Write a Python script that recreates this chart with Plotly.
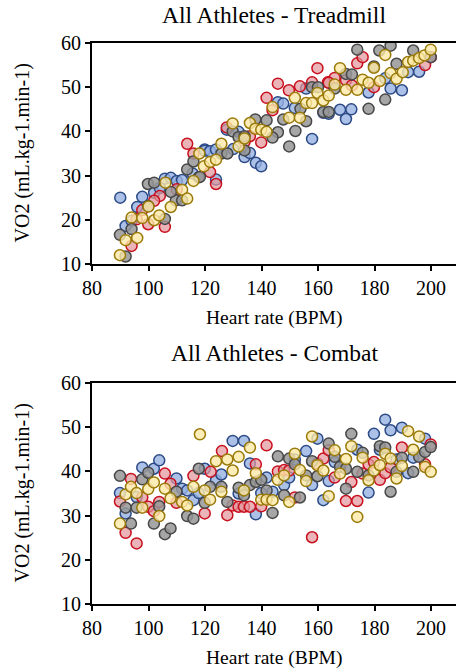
import plotly.graph_objects as go

# Treadmill (heart rate BPM, VO2 mL/kg/min)
tm_blue_hr = [90, 97.8, 96, 102, 104, 105.8, 107.9, 110, 111.9, 115.6, 119.9, 91.9, 94, 119.9, 121.8, 123.9,
              123.9, 127.7, 131.9, 130, 134, 135.9, 138, 139.9, 145.8, 147.7, 151.8, 155.8, 157.9, 161.9,
              163.8, 167.8, 169.9, 171.8, 177.9, 183.8, 185.7, 189.7, 191.9, 195.8]
tm_blue_vo2 = [25, 25.2, 22.9, 26.1, 27.2, 29.3, 29.5, 28.8, 29, 30.5, 35.9, 18.6, 19.8, 35.6, 35.5, 35.9,
               29.1, 40.4, 39.9, 36, 34.2, 35.1, 32.9, 32.1, 46.6, 46.3, 45.3, 49.7, 38.3, 44.2,
               44, 44.9, 42.8, 45, 48.8, 52, 49.7, 49.3, 53.4, 53.5]

tm_red_hr = [104, 102, 110, 113.7, 115.9, 94, 95.8, 97.8, 99.9, 105.8, 121.8, 123.9, 127.7, 135.9, 134,
             139.9, 141.8, 143.9, 145.8, 149.7, 153.6, 157.9, 159.8, 163.5, 165.9, 163.8, 169.9, 172,
             173.9, 175.8, 179.8, 197.9, 199.9]
tm_red_vo2 = [25.4, 24.3, 26.9, 37.2, 35, 14.1, 20.1, 22.2, 19, 18.4, 30.8, 28.1, 40.9, 38.9, 37.6,
              37.5, 47.6, 44.8, 50.8, 49.3, 50.2, 51.1, 54.3, 51.1, 52.1, 51, 51.6, 50.4,
              55.4, 56.8, 50, 55, 56.8]

tm_gray_hr = [99.8, 102, 99.9, 113.7, 117.8, 115.9, 109.7, 111.9, 89.9, 94, 91.9, 105.8, 107.9, 118.2,
              125.8, 127.9, 129.8, 131.9, 134, 134, 137.8, 141.8, 145.8, 143.9, 147.7, 152, 149.8, 153.8,
              155.8, 157.9, 160, 161.9, 163.8, 165.9, 169.9, 172, 173.9, 177.9, 179.8, 181.7, 183.8,
              185.7, 187.8, 193.7, 199.9]
tm_gray_vo2 = [28.1, 28.4, 23.1, 31.4, 29.6, 33.2, 24.4, 24.4, 16.6, 17.9, 11.7, 20.2, 26.3, 29.7,
               35, 35, 40, 38.7, 38.9, 35.7, 42.7, 42.5, 39.8, 38.6, 42.7, 40.1, 36.6, 45.1,
               42.3, 50, 50, 44.4, 44.4, 49.7, 53, 52.9, 58.5, 45.1, 54.7, 58.3, 47.2,
               59.4, 55.3, 58.3, 56.8]

tm_yellow_hr = [100, 106, 115.9, 111.9, 113.7, 107.9, 118, 119.6, 94, 91.9, 96, 89.9, 97.8, 102, 103.8,
                121.8, 123.9, 125.8, 129.8, 131.9, 134, 135.9, 137.8, 139.9, 141.8, 143.9, 149.8,
                151.8, 153.6, 155.8, 157.9, 159.8, 161.9, 163.8, 165.9, 167.8, 169.9, 173.9, 175.8,
                177.9, 179.8, 181.9, 183.8, 185.7, 187.8, 190, 191.9, 193.7, 195.8, 197.7, 199.9]
tm_yellow_vo2 = [23, 28.4, 28.8, 26.8, 24.8, 22.9, 35, 32.1, 20.5, 15.4, 15.9, 12, 20.4, 19.9, 21,
                 33.1, 33.6, 37.2, 41.8, 36.6, 38.4, 41.9, 40.6, 40.4, 39.9, 45.5, 43.1,
                 47.6, 43.1, 46.4, 46.4, 48.7, 47, 48.1, 50.6, 54.3, 49.4, 49.4, 51.7,
                 51, 54.4, 51.4, 57.3, 53.2, 51.9, 53.4, 55.7, 56, 56.6, 57.2, 58.5]

# Combat
cb_blue_hr = [89.9, 91.9, 95.8, 97.8, 101.9, 103.8, 109.9, 111.9, 113.7, 115.9, 117.8, 119.9, 123.9, 125.8,
              129.8, 133.8, 135.9, 131.9, 138, 139.9, 141.8, 143.9, 148, 149.8, 151.8, 155.8, 157.9,
              159.8, 161.9, 163.8, 165.9, 173.9, 177.9, 179.8, 181.9, 183.8, 185.7, 187.8, 189.7,
              191.9, 193.7, 197.9]
cb_blue_vo2 = [35.1, 30.5, 34.2, 40.9, 40.6, 42.5, 38.4, 36.1, 35.7, 33.5, 35.1, 40.6, 38, 39.3,
               46.9, 46.9, 41.8, 35, 30.3, 35.1, 38.6, 35.4, 36.9, 38.6, 42.7, 44.6, 36.9,
               47.4, 33.5, 37.8, 42.1, 44.9, 35.2, 48.5, 44.9, 51.7, 49.3, 42.7, 49.9,
               39.6, 43.1, 47.4]

cb_red_hr = [89.9, 91.9, 93.8, 95.8, 97.8, 99.9, 101.9, 103.8, 105.8, 107.8, 109.9, 115.9, 119.9, 122,
             126, 127.9, 129.8, 131.9, 133.8, 135.9, 138, 139.9, 141.8, 145.8, 148, 149.8, 151.8,
             157.9, 159.8, 161.9, 163.8, 165.9, 169.9, 171.8, 173.9, 175.8, 177.9, 179.8, 181.9,
             183.8, 185.7, 189.7, 197.9, 199.9]
cb_red_vo2 = [33.2, 26.1, 38.3, 23.7, 34.1, 32, 31, 33.1, 39.5, 37.2, 32.9, 39, 30.5, 39.9,
              44.6, 30.1, 32.3, 32, 32, 32, 41.6, 32.1, 45.9, 40, 40.3, 40.2, 34.1,
              25.1, 41.8, 42.9, 44.8, 38.6, 33.3, 37.6, 33.3, 39.5, 41.6, 42.1, 38.1,
              39.6, 40.9, 45.4, 41.6, 46.1]

cb_gray_hr = [89.9, 91.9, 93.8, 95.8, 97.8, 99.9, 101.9, 103.8, 105.8, 107.8, 109.9, 113.7, 115.9, 117.8,
              119.9, 121.8, 125.8, 127.9, 131.9, 133.8, 135.9, 138, 139.9, 141.8, 143.9, 145.8, 148,
              149.8, 151.8, 153.6, 155.8, 157.9, 159.8, 163.8, 165.9, 167.8, 169.9, 169.9, 171.8,
              173.9, 175.8, 177.9, 181.9, 183.8, 185.7, 187.8, 189.7, 193.7, 195.8, 197.9, 199.9]
cb_gray_vo2 = [39, 31.8, 28.2, 31.8, 38.2, 39.7, 28.2, 32.1, 25.8, 27.1, 35.4, 29.9, 29.3, 40.6,
               32.9, 36.5, 36.5, 33.1, 36.3, 34.6, 36.9, 37.6, 38.1, 35.7, 30.6, 43.4, 34.6,
               42.9, 41.6, 34.1, 39.1, 42.3, 38.9, 46.3, 43.3, 41, 36.1, 40.6, 48.5,
               39.9, 44.2, 39.1, 45.7, 45.4, 35.4, 39.9, 43.1, 39.9, 43.3, 44.4, 45.5]

cb_yellow_hr = [89.9, 91.9, 93.8, 95.8, 97.8, 99.9, 101.9, 103.8, 105.8, 107.8, 111.9, 113.7, 115.9, 118.2,
                119.9, 121.8, 123.9, 125.8, 127.9, 129.8, 131.9, 133.8, 135.9, 138, 139.9, 141.8,
                143.9, 145.8, 148, 149.8, 151.8, 153.6, 155.8, 157.9, 159.8, 161.9, 163.8, 165.9,
                167.8, 169.9, 171.8, 173.9, 175.8, 177.9, 179.8, 181.9, 183.8, 185.7, 187.8, 189.7,
                191.9, 193.7, 195.8, 197.9, 199.9]
cb_yellow_vo2 = [28.2, 34.8, 36.5, 35.1, 31.8, 36, 37.5, 29.9, 36.1, 33.9, 33.1, 32.3, 36.5, 48.4,
                 35.7, 33.6, 42.3, 35.4, 42.7, 40.2, 43.3, 35.7, 45.4, 39.6, 33.6, 33.6,
                 33.5, 38.1, 39.1, 33.1, 44, 40.3, 37.8, 47.9, 41.4, 40.2, 34.4, 44.8,
                 39.5, 42.8, 45.7, 29.7, 43.1, 38, 40.2, 41.4, 44, 42.9, 38.4, 41.2,
                 49.1, 44.9, 47.9, 41, 39.9]

x_ticks = [80, 100, 120, 140, 160, 180, 200]
y_ticks = [10, 20, 30, 40, 50, 60]

styles = {
    'blue': ('rgba(150,178,226,0.8)', '#2c4a86'),
    'red': ('rgba(226,148,154,0.7)', '#c8101e'),
    'gray': ('rgba(150,150,150,0.85)', '#474747'),
    'yellow': ('rgba(253,234,168,0.8)', '#9a7a08'),
}

FONT = 'Liberation Serif, serif'

W, H = 456, 672
L, T, B = 92, 43, 68

fig = go.Figure()

panels = [
    ('x', 'y', [('blue', tm_blue_hr, tm_blue_vo2), ('red', tm_red_hr, tm_red_vo2),
                ('gray', tm_gray_hr, tm_gray_vo2), ('yellow', tm_yellow_hr, tm_yellow_vo2)]),
    ('x2', 'y2', [('blue', cb_blue_hr, cb_blue_vo2), ('red', cb_red_hr, cb_red_vo2),
                  ('gray', cb_gray_hr, cb_gray_vo2), ('yellow', cb_yellow_hr, cb_yellow_vo2)]),
]
for xa, ya, series in panels:
    for name, hr, vo2 in series:
        fill, line = styles[name]
        fig.add_trace(go.Scatter(
            x=hr, y=vo2, mode='markers', xaxis=xa, yaxis=ya, showlegend=False,
            marker=dict(size=11, color=fill, line=dict(color=line, width=1.5)),
        ))

axis_common = dict(
    showline=True, linecolor='black', linewidth=2, ticks='outside', ticklen=5, tickwidth=2,
    tickcolor='black', showgrid=False, zeroline=False,
    tickfont=dict(family=FONT, size=20, color='black'),
)
plot_h = H - T - B
top_dom = [(H - B - 264) / plot_h, 1.0]
bot_dom = [0.0, (H - B - 383) / plot_h]

fig.update_layout(
    width=W, height=H,
    margin=dict(l=L, r=0, t=T, b=B),
    plot_bgcolor='white', paper_bgcolor='white',
    font=dict(family=FONT),
    xaxis=dict(domain=[0, 1], range=[80, 208.85], tickvals=x_ticks, mirror=True, anchor='y', **axis_common),
    yaxis=dict(domain=top_dom, range=[10, 60], tickvals=y_ticks, anchor='x', mirror=False, **axis_common),
    xaxis2=dict(domain=[0, 1], range=[80, 208.85], tickvals=x_ticks, mirror=True, anchor='y2', **axis_common),
    yaxis2=dict(domain=bot_dom, range=[10, 60], tickvals=y_ticks, anchor='x2', mirror=False, **axis_common),
)


def px_to_paper_y(py):
    return (H - B - py) / plot_h


def px_to_paper_x(px):
    return (px - L) / (W - L)


# positions below are in window pixels
annots = [
    ('All Athletes - Treadmill', 274, 15, 0, 23.5),
    ('All Athletes - Combat', 274, 353, 0, 23.5),
    ('Heart rate (BPM)', 274, 318, 0, 19.5),
    ('Heart rate (BPM)', 274, 658, 0, 19.5),
    ('VO2 (mL.kg-1.min-1)', 22, 153.5, -90, 20),
    ('VO2 (mL.kg-1.min-1)', 22, 493.5, -90, 20),
]
for text, ax, ay, angle, size in annots:
    fig.add_annotation(
        text=text, xref='paper', yref='paper', x=px_to_paper_x(ax), y=px_to_paper_y(ay),
        xanchor='center', yanchor='middle', showarrow=False, textangle=angle,
        font=dict(family=FONT, size=size, color='black'),
    )

# drop the default 8px page margin so the figure sits at the window origin
fig.write_html("out.html", config={'displayModeBar': False},
               post_script="document.body.style.margin='0';")
